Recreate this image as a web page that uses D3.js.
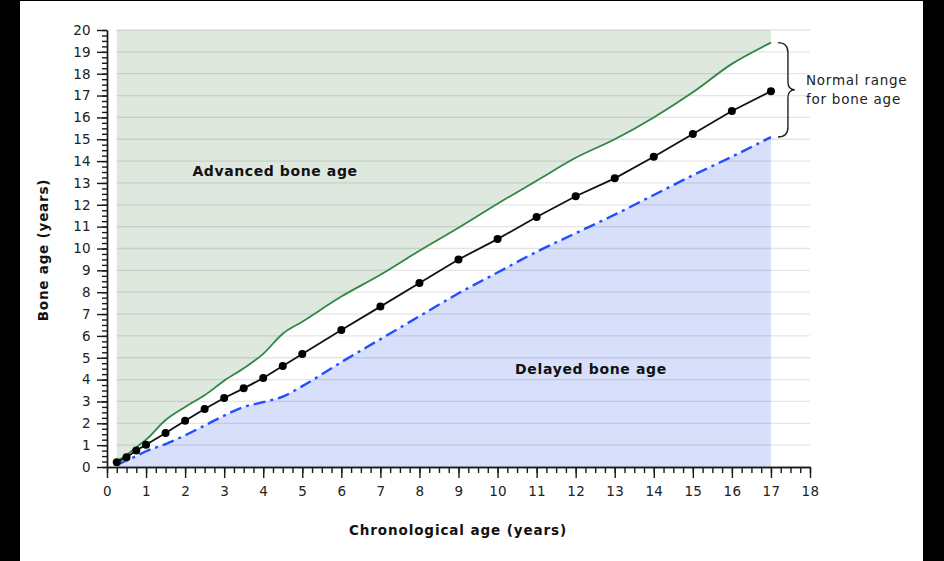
<!DOCTYPE html>
<html>
<head>
<meta charset="utf-8">
<script src="https://cdn.jsdelivr.net/npm/d3@7"></script>
<style>
  html, body { margin: 0; padding: 0; background: #000; }
  svg { display: block; }
  text { font-family: "DejaVu Sans", Verdana, sans-serif; }
</style>
</head>
<body>
<svg id="chart" width="944" height="561"></svg>
<script>
// ---- data ----
const ages = [0.25, 0.5, 0.75, 1, 1.5, 2, 2.5, 3, 3.5, 4, 4.5, 5, 6, 7, 8, 9, 10, 11, 12, 13, 14, 15, 16, 17];
const median = [0.22, 0.45, 0.76, 1.02, 1.56, 2.12, 2.65, 3.16, 3.6, 4.07, 4.62, 5.17, 6.27, 7.34, 8.42, 9.5, 10.43, 11.44, 12.39, 13.21, 14.2, 15.24, 16.29, 17.2];
const upper = [0.25, 0.55, 0.9, 1.25, 2.15, 2.75, 3.28, 3.95, 4.52, 5.18, 6.1, 6.65, 7.8, 8.8, 9.9, 10.95, 12.05, 13.1, 14.15, 15.0, 16.0, 17.15, 18.45, 19.42];
const lower = [0.1, 0.3, 0.5, 0.72, 1.05, 1.45, 1.9, 2.35, 2.75, 2.97, 3.22, 3.7, 4.8, 5.85, 6.9, 7.95, 8.9, 9.85, 10.7, 11.55, 12.45, 13.35, 14.2, 15.1];
const xTicks = d3.range(0, 19);
const yTicks = d3.range(0, 21);
const xTitle = "Chronological age (years)";
const yTitle = "Bone age (years)";
const advLabel = "Advanced bone age";
const delLabel = "Delayed bone age";
const rangeLabel = ["Normal range", "for bone age"];

// ---- layout ----
const svg = d3.select("#chart");
svg.append("rect").attr("x", 0).attr("y", 0).attr("width", 944).attr("height", 561).attr("fill", "#000");
svg.append("rect").attr("x", 20).attr("y", 1).attr("width", 903).attr("height", 560).attr("fill", "#fff");

const x = d3.scaleLinear().domain([0, 18]).range([107, 810]);
const y = d3.scaleLinear().domain([0, 20]).range([467, 30]);

const up = ages.map((a, i) => [a, upper[i]]);
const lo = ages.map((a, i) => [a, lower[i]]);
const md = ages.map((a, i) => [a, median[i]]);
const curve = d3.curveMonotoneX;

// fills
svg.append("path").datum(up)
  .attr("d", d3.area().x(d => x(d[0])).y0(y(20)).y1(d => y(d[1])).curve(curve))
  .attr("fill", "#dee8df");
svg.append("path").datum(lo)
  .attr("d", d3.area().x(d => x(d[0])).y0(y(0)).y1(d => y(d[1])).curve(curve))
  .attr("fill", "#d7dffa");

// gridlines
svg.append("g").selectAll("line").data(yTicks.filter(v => v > 0)).join("line")
  .attr("x1", x(ages[0])).attr("x2", x(18))
  .attr("y1", d => y(d)).attr("y2", d => y(d))
  .attr("stroke", "rgba(0,0,0,0.1)").attr("stroke-width", 1.3);

// lines
svg.append("path").datum(up)
  .attr("d", d3.line().x(d => x(d[0])).y(d => y(d[1])).curve(curve))
  .attr("fill", "none").attr("stroke", "#2e8745").attr("stroke-width", 1.8);
svg.append("path").datum(lo)
  .attr("d", d3.line().x(d => x(d[0])).y(d => y(d[1])).curve(curve))
  .attr("fill", "none").attr("stroke", "#1f4fff").attr("stroke-width", 2.4)
  .attr("stroke-dasharray", "12,5,3,5");
svg.append("path").datum(md)
  .attr("d", d3.line().x(d => x(d[0])).y(d => y(d[1])))
  .attr("fill", "none").attr("stroke", "#111").attr("stroke-width", 1.8);
svg.append("g").selectAll("circle").data(md).join("circle")
  .attr("cx", d => x(d[0])).attr("cy", d => y(d[1])).attr("r", 4)
  .attr("fill", "#000");

// axes
const axisColor = "#1a1a1a";
const xMinor = svg.append("g").attr("transform", `translate(0,${y(0)})`)
  .call(d3.axisBottom(x).tickValues(d3.range(0, 18.001, 0.25)).tickSize(6).tickSizeOuter(0).tickFormat(""));
const xMajor = svg.append("g").attr("transform", `translate(0,${y(0)})`)
  .call(d3.axisBottom(x).tickValues(xTicks).tickSize(11).tickSizeOuter(0).tickPadding(8).tickFormat(d3.format("d")));
const yMinor = svg.append("g").attr("transform", `translate(${x(0)},0)`)
  .call(d3.axisLeft(y).tickValues(d3.range(0, 20.001, 0.25)).tickSize(5).tickSizeOuter(0).tickFormat(""));
const yMajor = svg.append("g").attr("transform", `translate(${x(0)},0)`)
  .call(d3.axisLeft(y).tickValues(yTicks).tickSize(10).tickSizeOuter(0).tickPadding(6).tickFormat(d3.format("d")));
[xMinor, xMajor, yMinor, yMajor].forEach(g => {
  g.selectAll("path, line").attr("stroke", axisColor).attr("stroke-width", 1.4);
  g.selectAll("text").attr("fill", "#222").style("font-size", "13.5px")
    .style("letter-spacing", "0.3px").style("font-family", "'DejaVu Sans', Verdana, sans-serif");
});

// titles
svg.append("text").attr("x", 458).attr("y", 535).attr("text-anchor", "middle")
  .style("font-size", "13.5px").style("font-weight", "bold").style("letter-spacing", "0.9px")
  .attr("fill", "#111").text(xTitle);
svg.append("text").attr("transform", "translate(48,250) rotate(-90)").attr("text-anchor", "middle")
  .style("font-size", "13.5px").style("font-weight", "bold").style("letter-spacing", "0.8px")
  .attr("fill", "#111").text(yTitle);

// region labels
svg.append("text").attr("x", 275).attr("y", 176).attr("text-anchor", "middle")
  .style("font-size", "14px").style("font-weight", "bold").style("letter-spacing", "0.6px")
  .attr("fill", "#111").text(advLabel);
svg.append("text").attr("x", 591).attr("y", 374).attr("text-anchor", "middle")
  .style("font-size", "14px").style("font-weight", "bold").style("letter-spacing", "0.65px")
  .attr("fill", "#111").text(delLabel);

// brace
const bTop = y(upper[upper.length - 1]);
const bBot = y(lower[lower.length - 1]);
const bMid = (bTop + bBot) / 2;
const bx0 = x(17) + 7, bx1 = bx0 + 10, bTip = bx1 + 7;
const brace = `M${bx0},${bTop} Q${bx1},${bTop} ${bx1},${bTop + 10} L${bx1},${bMid - 8} Q${bx1},${bMid} ${bTip},${bMid} Q${bx1},${bMid} ${bx1},${bMid + 8} L${bx1},${bBot - 10} Q${bx1},${bBot} ${bx0},${bBot}`;
svg.append("path").attr("d", brace).attr("fill", "none").attr("stroke", "#222").attr("stroke-width", 1.4);
svg.selectAll("text.rng").data(rangeLabel).join("text").attr("class", "rng")
  .attr("x", 806).attr("y", (d, i) => 85 + i * 19)
  .style("font-size", "13.5px").style("letter-spacing", "0.75px").attr("fill", "#222").text(d => d);
</script>
</body>
</html>
